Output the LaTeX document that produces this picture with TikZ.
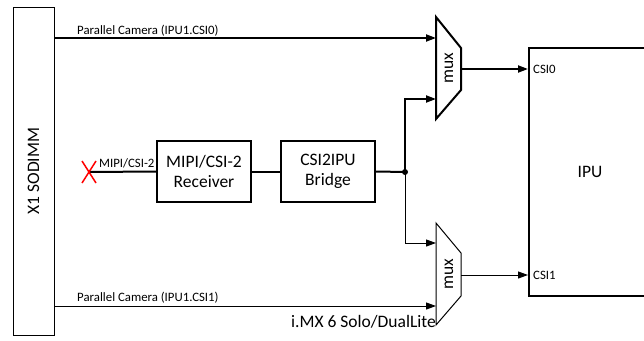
\documentclass[tikz,border=0pt]{standalone}
\usepackage{fontspec}
\setmainfont{Carlito}
\usepackage{graphicx}
\usetikzlibrary{arrows.meta}
\tikzset{
  thk/.style={line width=2pt},
  thn/.style={line width=1pt},
  arr/.style={-{Triangle[length=10pt,width=7pt]}},
  bigtxt/.style={font=\fontsize{17.5}{20.5}\selectfont},
  smalltxt/.style={font=\fontsize{12.8}{15}\selectfont},
  block/.style={draw, thk, minimum width=94pt, minimum height=61pt, inner sep=0pt, align=center, bigtxt},
  lbl/.style={inner sep=0pt, smalltxt},
}
\begin{document}
\begin{tikzpicture}[x=1pt,y=-1pt]
\useasboundingbox (0,0) rectangle (644,340);
% SODIMM
\node[draw, thn, minimum width=41pt, minimum height=328pt, inner sep=0pt, bigtxt] (sodimm) at (33.5,171) {\rotatebox{90}{X1 SODIMM}};
% IPU (extends beyond right edge)
\begin{scope}
\clip (0,0) rectangle (644,340);
\node[draw, thk, minimum width=140pt, minimum height=248pt, inner sep=0pt] (ipu) at (599,172) {};
\end{scope}
\node[bigtxt, inner sep=0pt] (ipulbl) at (590,172) {IPU};
% blocks
\node[block] (rec) at (204,171.5) {MIPI/CSI-2\\Receiver};
\node[block] (bridge) at (328,171.5) {CSI2IPU\\Bridge};
% muxes
\draw[thk] (436,17) -- (461,48) -- (461,90) -- (436,119) -- cycle;
\draw[thn] (436,223) -- (461,253) -- (461,296) -- (436,325) -- cycle;
\node[bigtxt, inner sep=0pt] (mux1) at (449,68) {\rotatebox{90}{mux}};
\node[bigtxt, inner sep=0pt] (mux2) at (449,274) {\rotatebox{90}{mux}};
\coordinate (m1a) at (436,38);
\coordinate (m1b) at (436,99);
\coordinate (m1o) at (461,69);
\coordinate (m2a) at (436,243);
\coordinate (m2b) at (436,306);
\coordinate (m2o) at (461,275);
% junction and MIPI end
\coordinate (j) at (405,172);
\coordinate (xm) at (89,172);
% connectors
\draw[thk, arr] (sodimm.east |- m1a) -- (m1a);
\draw[thn, arr] (sodimm.east |- m2b) -- (m2b);
\draw[thk, arr] (m1o) -- (ipu.west |- m1o);
\draw[thn, arr] (m2o) -- (ipu.west |- m2o);
\draw[thk] (xm) -- (rec.west);
\draw[thk] (rec.east) -- (bridge.west);
\draw[thk] (bridge.east) -- (j);
\draw[thk, arr] (j) |- (m1b);
\draw[thn, arr] (j) |- (m2a);
\fill (j) circle (3pt);
% red X
\draw[red, line width=1.5pt] ([shift={(-7,-11)}]xm) -- ([shift={(7,11)}]xm);
\draw[red, line width=1.5pt] ([shift={(7,-11)}]xm) -- ([shift={(-7,11)}]xm);
% labels
\node[lbl, anchor=base west] (p0) at (77,34) {Parallel Camera (IPU1.CSI0)};
\node[lbl, anchor=base west] (p1) at (77,301) {Parallel Camera (IPU1.CSI1)};
\node[lbl, anchor=base west] (mipi) at (99,167.5) {MIPI/CSI-2};
\node[lbl, anchor=west] (csi0) at (533,69) {CSI0};
\node[lbl, anchor=west] (csi1) at (533,275) {CSI1};
\node[bigtxt, inner sep=0pt, anchor=base west] (chip) at (291,327) {i.MX 6 Solo/DualLite};
\end{tikzpicture}
\end{document}
